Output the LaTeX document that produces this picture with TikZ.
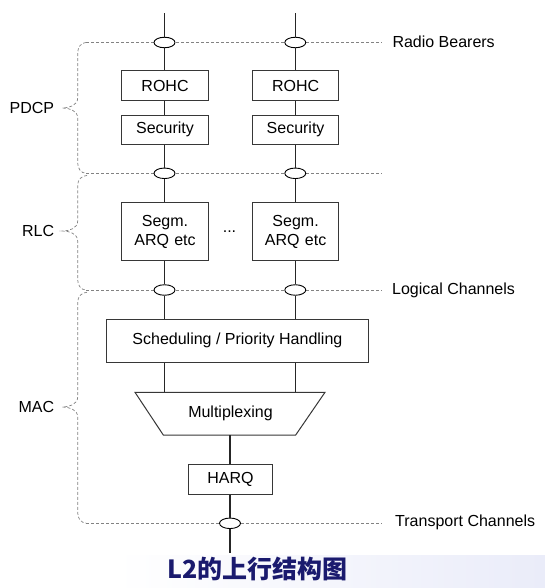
\documentclass[tikz,border=0pt]{standalone}
\usepackage{fontspec}
\setmainfont{Liberation Sans}
\newfontfamily\cjk{Noto Sans CJK SC}
\usetikzlibrary{calc,shapes.geometric}
\definecolor{boxline}{RGB}{55,55,55}
\definecolor{dashgray}{RGB}{130,130,130}
\definecolor{titleblue}{RGB}{26,26,110}
\definecolor{bannerend}{RGB}{234,236,249}
\tikzset{
  lbl/.style={font=\fontsize{16}{18}\selectfont, inner sep=0pt},
  blk/.style={draw=boxline, line width=1pt, fill=white, minimum width=86.6pt, align=center, font=\fontsize{16}{18}\selectfont, inner sep=0pt},
  chan/.style={draw=black, line width=0.9pt, fill=white, ellipse, minimum width=21pt, minimum height=10.5pt, inner sep=0pt},
  wire/.style={line width=1.3pt, black!85},
  dline/.style={dashgray, line width=0.7pt, dash pattern=on 3pt off 2pt},
  bracepath/.style={dashgray, line width=0.7pt, dash pattern=on 3pt off 2pt},
}
\begin{document}
\begin{tikzpicture}[x=1pt, y=-1pt]
\useasboundingbox (0,0) rectangle (545,588);
% banner
\shade[left color=white, right color=bannerend] (115,555) rectangle (545,588);
\node[font=\cjk\bfseries\fontsize{25}{28}\selectfont, text=titleblue, inner sep=0pt] (title) at (257.5,569) {L2的上行结构图};

% dashed channel lines
\coordinate (rbL) at (86,42.5);  \coordinate (rbR) at (381.5,42.5);
\coordinate (pxL) at (86,173.3); \coordinate (pxR) at (381.5,173.3);
\coordinate (lcL) at (86,290);   \coordinate (lcR) at (381.5,290);
\coordinate (tcL) at (86,523);   \coordinate (tcR) at (381.5,523);
\draw[dline] (rbL) -- (rbR);
\draw[dline] (pxL) -- (pxR);
\draw[dline] (lcL) -- (lcR);
\draw[dline] (tcL) -- (tcR);

% braces
\draw[bracepath] (rbL) to[out=180,in=90] (77.7,53) -- (77.7,98) to[out=-90,in=0] (62.5,108) to[out=0,in=90] (77.7,118) -- (77.7,163) to[out=-90,in=180] (pxL);
\draw[bracepath] (87,175.5) to[out=180,in=90] (77.7,185) -- (77.7,221) to[out=-90,in=0] (62.5,231) to[out=0,in=90] (77.7,241) -- (77.7,280) to[out=-90,in=180] (lcL);
\draw[bracepath] (87,292.3) to[out=180,in=90] (77.7,302) -- (77.7,397) to[out=-90,in=0] (62.5,407) to[out=0,in=90] (77.7,417) -- (77.7,513) to[out=-90,in=180] (tcL);

% layer labels
\node[lbl, anchor=east] (pdcp) at (54.3,108) {PDCP};
\node[lbl, anchor=east] (rlc) at (54.3,231) {RLC};
\node[lbl, anchor=east] (mac) at (54.3,407) {MAC};

% channel labels
\node[lbl, anchor=west] (rb) at (392.3,42) {Radio Bearers};
\node[lbl, anchor=west] (lc) at (392,290) {Logical Channels};
\node[lbl, anchor=west] (tc) at (395,522.5) {Transport Channels};

% top ends
\coordinate (topA) at (164.5,13.3);
\coordinate (topB) at (295.3,13.3);

% blocks
\node[blk, minimum height=29.7pt] (rohcA) at (165,85.8) {ROHC};
\node[blk, minimum height=29.7pt] (rohcB) at (295.6,85.8) {ROHC};
\node[blk, minimum height=29pt] (secA) at (165,129.8) {Security};
\node[blk, minimum height=29pt] (secB) at (295.6,129.8) {Security};
\node[blk, minimum height=58.4pt, text width=86.6pt] (segA) at (165,231.5) {Segm.\\[1pt]ARQ etc};
\node[blk, minimum height=58.4pt, text width=86.6pt] (segB) at (295.6,231.5) {Segm.\\[1pt]ARQ etc};
\node[lbl] (dots) at (229.5,232) {...};
\node[blk, minimum width=261.3pt, minimum height=43pt] (sched) at (237.4,340.8) {Scheduling / Priority Handling};
\node[blk, minimum width=84.4pt, minimum height=29.7pt] (harq) at (230.5,479.2) {HARQ};

% multiplexing trapezoid
\coordinate (muxTL) at (135,392.3); \coordinate (muxTR) at (325,392.3);
\coordinate (muxBR) at (295.7,435); \coordinate (muxBL) at (163.3,435);
\draw[boxline, line width=1pt, fill=white] (muxTL) -- (muxTR) -- (muxBR) -- (muxBL) -- cycle;
\node[lbl] (mux) at (230.5,413.3) {Multiplexing};
\coordinate (muxTopA) at (164.5,392.3);
\coordinate (muxTopB) at (295.3,392.3);
\coordinate (muxBot) at (230,435);
\coordinate (botEnd) at (230,553);

% channel ellipses
\node[chan] (rbA) at (164.5,42.5) {};
\node[chan] (rbB) at (295.3,42.5) {};
\node[chan] (pxA) at (164.5,173.3) {};
\node[chan] (pxB) at (295.3,173.3) {};
\node[chan] (lcA) at (164.5,290) {};
\node[chan] (lcB) at (295.3,290) {};
\node[chan] (tcA) at (230,523.3) {};

% wires
\draw[wire] (topA) -- (rbA);
\draw[wire] (topB) -- (rbB);
\draw[wire] (rbA) -- (rbA |- rohcA.north);
\draw[wire] (rbB) -- (rbB |- rohcB.north);
\draw[wire] (rohcA.south -| rbA) -- (secA.north -| rbA);
\draw[wire] (rohcB.south -| rbB) -- (secB.north -| rbB);
\draw[wire] (secA.south -| pxA) -- (pxA);
\draw[wire] (secB.south -| pxB) -- (pxB);
\draw[wire] (pxA) -- (pxA |- segA.north);
\draw[wire] (pxB) -- (pxB |- segB.north);
\draw[wire] (segA.south -| lcA) -- (lcA);
\draw[wire] (segB.south -| lcB) -- (lcB);
\draw[wire] (lcA) -- (lcA |- sched.north);
\draw[wire] (lcB) -- (lcB |- sched.north);
\draw[wire] (sched.south -| muxTopA) -- (muxTopA);
\draw[wire] (sched.south -| muxTopB) -- (muxTopB);
\draw[wire] (muxBot) -- (muxBot |- harq.north);
\draw[wire] (harq.south -| tcA) -- (tcA);
\draw[wire] (tcA) -- (botEnd);
\end{tikzpicture}
\end{document}
